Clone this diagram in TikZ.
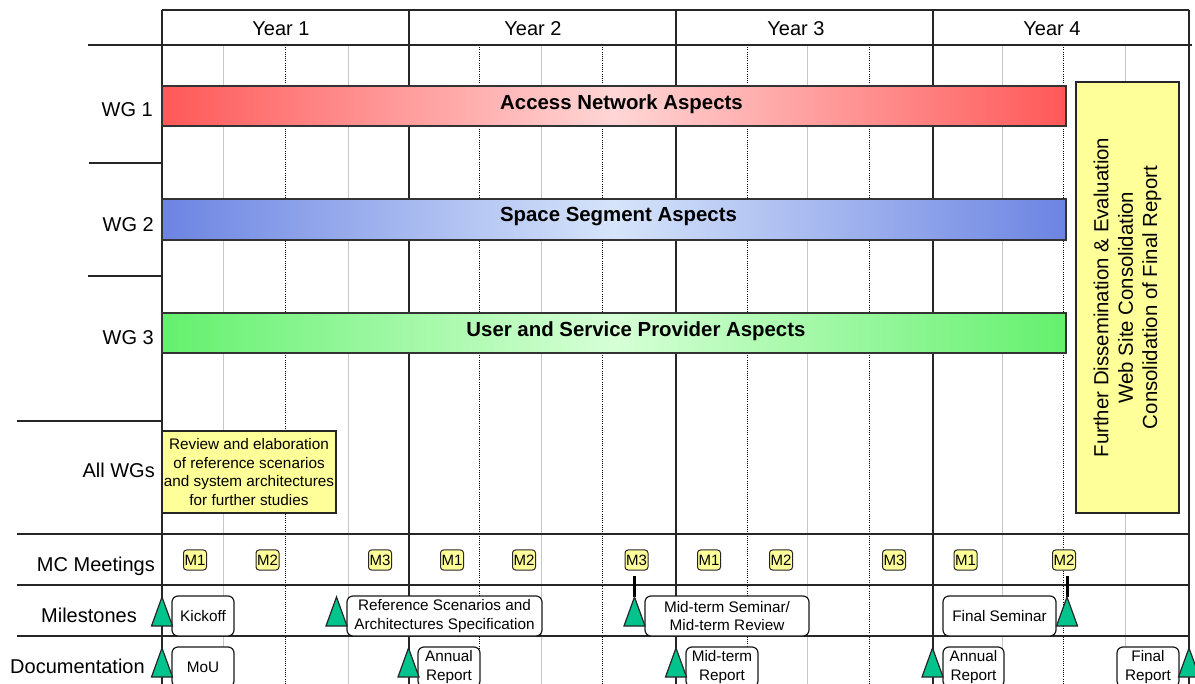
\documentclass[tikz,border=0pt]{standalone}
\usepackage{fontspec}
\setmainfont{Liberation Sans}
\usetikzlibrary{calc}
\definecolor{ylw}{HTML}{FFFF99}
\definecolor{tgreen}{RGB}{0,196,140}
\definecolor{redE}{RGB}{255,88,88}
\definecolor{redC}{RGB}{255,214,214}
\definecolor{bluE}{RGB}{108,132,226}
\definecolor{bluC}{RGB}{214,228,250}
\definecolor{grnE}{RGB}{100,240,110}
\definecolor{grnC}{RGB}{214,255,214}
\tikzset{
  gridline/.style={line width=1.5pt, draw=black!85},
  subline/.style={line width=0.8pt, draw=black!22},
  halfline/.style={line width=0.8pt, draw=black, dash pattern=on 1pt off 1.2pt},
  barbox/.style={draw=black!80, line width=1.2pt, inner sep=0, minimum width=904pt},
  lbl/.style={font=\fontsize{20}{24}\selectfont, inner sep=0},
  bartxt/.style={font=\bfseries\fontsize{20.4}{24}\selectfont, inner sep=0},
  mcbox/.style={draw=black!85, line width=1pt, fill=ylw, rounded corners=3pt,
    minimum width=23pt, minimum height=20pt, inner sep=0, font=\fontsize{15}{18}\selectfont},
  msbox/.style={draw=black!90, line width=1.2pt, fill=white, rounded corners=6pt,
    inner sep=0, align=center, minimum height=40pt, font=\fontsize{15.3}{18.3}\selectfont},
  tri/.style={fill=tgreen, draw=black!85, line width=1.2pt, line join=miter},
  notebox/.style={draw=black!85, line width=1.2pt, fill=ylw, inner sep=0, align=center},
  conn/.style={line width=3pt, draw=black}
}
\newcommand\mytri[1]{\draw[tri] (#1) -- ++(-10.5,29) -- ++(21,0) -- cycle;}
\begin{document}
\begin{tikzpicture}[x=1pt,y=-1pt]
\useasboundingbox (0,0) rectangle (1195,684);
\clip (0,0) rectangle (1195,684);
% quarter / half-year lines
\foreach \x in {223,348,541,807,1002,1125} \draw[subline] (\x,45) -- (\x,684);
\foreach \x in {285,479,602,747,869,1063} \draw[halfline] (\x,45) -- (\x,684);
% year lines and frame
\foreach \x in {162,409,676,933,1189} \draw[gridline] (\x,10) -- (\x,684);
\draw[gridline] (162,10) -- (1189,10);
\draw[gridline] (88,45) -- (1192,45);
\draw[gridline] (89,163) -- (162,163);
\draw[gridline] (88,276) -- (162,276);
\draw[gridline] (17,421) -- (162,421);
\foreach \y in {534,585,636} \draw[gridline] (17,\y) -- (1189,\y);
% header
\node[lbl, anchor=base] (y1) at (281,36) {Year 1};
\node[lbl, anchor=base] (y2) at (533,36) {Year 2};
\node[lbl, anchor=base] (y3) at (796,36) {Year 3};
\node[lbl, anchor=base] (y4) at (1052,36) {Year 4};
% row labels
\node[lbl, anchor=base east] (lwg1) at (153,116.5) {WG 1};
\node[lbl, anchor=base east] (lwg2) at (154,232) {WG 2};
\node[lbl, anchor=base east] (lwg3) at (154,345) {WG 3};
\node[lbl, anchor=base east] (lall) at (155,478) {All WGs};
\node[lbl, anchor=base east] (lmc) at (155,572) {MC Meetings};
\node[lbl, anchor=base west] (lms) at (41,622) {Milestones};
\node[lbl, anchor=base west] (ldoc) at (10,673) {Documentation};
% bars
\node[barbox, minimum height=40pt, left color=redE, right color=redE, middle color=redC] (bar1) at (614,106) {};
\node[barbox, minimum height=41pt, left color=bluE, right color=bluE, middle color=bluC] (bar2) at (614,219.5) {};
\node[barbox, minimum height=40pt, left color=grnE, right color=grnE, middle color=grnC] (bar3) at (614,333) {};
\node[bartxt, anchor=base] (t1) at (621.5,109.3) {Access Network Aspects};
\node[bartxt, anchor=base] (t2) at (618.5,221.7) {Space Segment Aspects};
\node[bartxt, anchor=base] (t3) at (636,336.7) {User and Service Provider Aspects};
% note boxes
\node[notebox, minimum width=174pt, minimum height=82pt, font=\fontsize{15.3}{18.5}\selectfont] (review) at (249,472)
  {Review and elaboration\\of reference scenarios\\and system architectures\\for further studies};
\node[notebox, rotate=90, minimum width=431pt, minimum height=103pt, font=\fontsize{20.4}{24.3}\selectfont] (final) at (1127.5,297.5)
  {Further Dissemination \& Evaluation\\Web Site Consolidation\\Consolidation of Final Report};
% MC meetings
\node[mcbox] (m11) at (195,560) {M1};
\node[mcbox] (m12) at (267.5,560) {M2};
\node[mcbox] (m13) at (380,560) {M3};
\node[mcbox] (m21) at (452,560) {M1};
\node[mcbox] (m22) at (524,560) {M2};
\node[mcbox] (m23) at (636.5,560) {M3};
\node[mcbox] (m31) at (709,560) {M1};
\node[mcbox] (m32) at (781,560) {M2};
\node[mcbox] (m33) at (894,560) {M3};
\node[mcbox] (m41) at (965.5,560) {M1};
\node[mcbox] (m42) at (1064,560) {M2};
% milestone boxes
\node[msbox, minimum width=62pt] (kick) at (203,616) {Kickoff};
\node[msbox, minimum width=195pt] (refsc) at (444.5,616) {Reference Scenarios and\\Architectures Specification};
\node[msbox, minimum width=164pt] (midsem) at (727,616) {Mid-term Seminar/\\Mid-term Review};
\node[msbox, minimum width=113pt] (finsem) at (999.5,616) {Final Seminar};
% documentation boxes
\node[msbox, minimum width=62pt] (mou) at (203,667) {MoU};
\node[msbox, minimum width=62pt] (ann1) at (449,667) {Annual\\Report};
\node[msbox, minimum width=72pt] (midrep) at (722,667) {Mid-term\\Report};
\node[msbox, minimum width=61pt] (ann2) at (973.5,667) {Annual\\Report};
\node[msbox, minimum width=62pt] (finrep) at (1148,667) {Final\\Report};
% triangles
\coordinate (ta1) at (162,597);
\coordinate (ta2) at (336.5,597);
\coordinate (ta3) at (634.5,597);
\coordinate (ta4) at (1067,597);
\coordinate (td1) at (162,648);
\coordinate (td2) at (408.5,648);
\coordinate (td3) at (676,648);
\coordinate (td4) at (932.5,648);
\coordinate (td5) at (1189,648);
\draw[conn] ($(ta3 |- m23.south)+(0,5)$) -- (ta3);
\draw[conn] ($(ta4 |- m42.south)+(0,5)$) -- (ta4);
\foreach \t in {ta1,ta2,ta3,ta4,td1,td2,td3,td4,td5} {\mytri{\t}}
\end{tikzpicture}
\end{document}
